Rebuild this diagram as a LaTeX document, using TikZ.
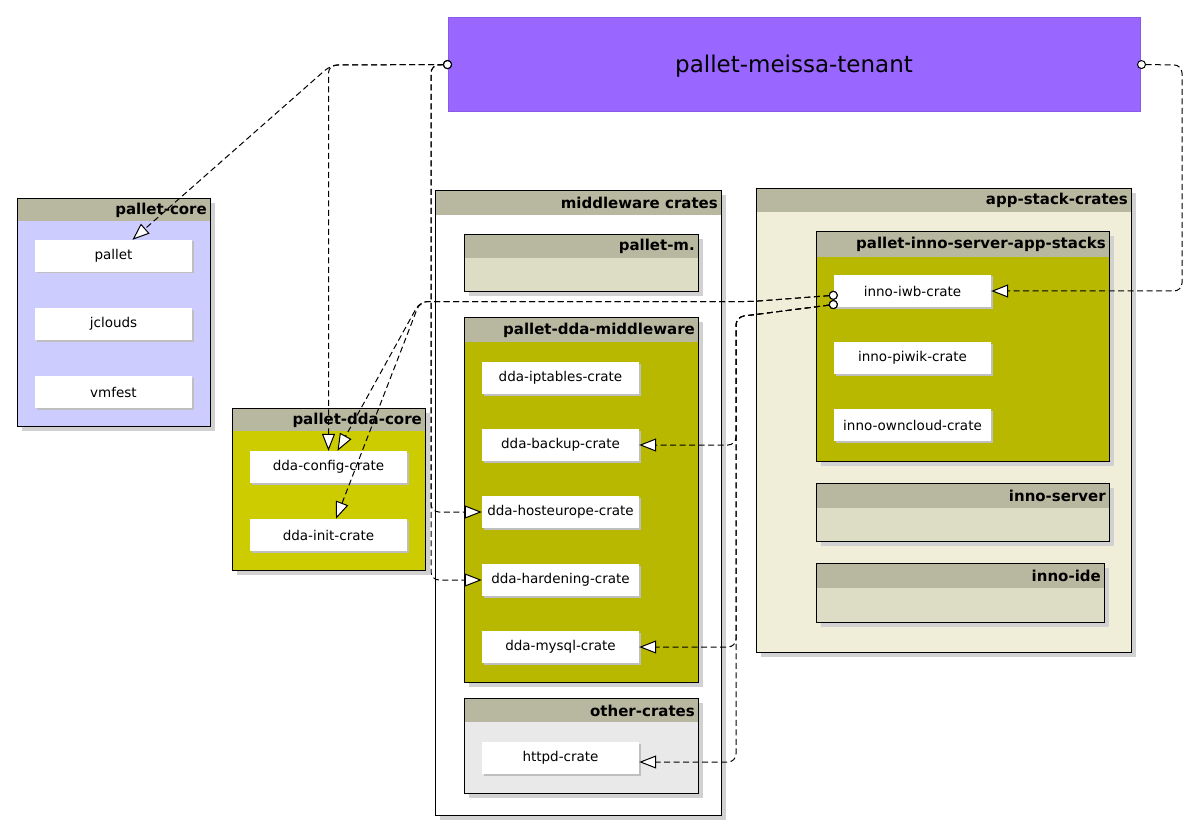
\documentclass[tikz,border=0pt]{standalone}
\usepackage{fontspec}
\setmainfont{DejaVu Sans}
\usetikzlibrary{arrows.meta,shadows}
\definecolor{hdr}{HTML}{B8B7A0}
\definecolor{corec}{HTML}{CCCCFF}
\definecolor{ddacorec}{HTML}{CCCC00}
\definecolor{olive}{HTML}{B8B800}
\definecolor{paleb}{HTML}{DDDCC5}
\definecolor{otherc}{HTML}{E9E9E9}
\definecolor{appc}{HTML}{F0EED8}
\definecolor{tenantc}{HTML}{9966FF}
\definecolor{tenantb}{HTML}{8A5AE6}
\newcommand{\pkgnode}[8]{%
  \node[pkg, fill=#7, minimum width=#4-#2, minimum height=#5-#3,
    path picture={\fill[hdr] (path picture bounding box.north west) rectangle ([yshift=-#6pt]path picture bounding box.north east);}] (#1) at (#2,#3) {};
  \node[titletext] (#1-t) at (#4-3,#3+#6/2+0.5) {#8};
}
\begin{document}
\begin{tikzpicture}[x=1pt,y=-1pt,
  pkg/.style={draw=black, line width=0.8pt, inner sep=0pt, outer sep=0pt, anchor=north west,
    drop shadow={shadow xshift=5pt, shadow yshift=-5pt, fill=black!18, opacity=1}},
  titletext/.style={anchor=east, inner sep=0pt, font=\fontsize{15}{17}\selectfont\bfseries},
  crate/.style={fill=white, minimum width=157pt, minimum height=32pt, inner sep=0pt,
    font=\fontsize{13.5}{15}\selectfont,
    drop shadow={shadow xshift=1.5pt, shadow yshift=-1.5pt, fill=black!25, opacity=1}},
  dep/.style={draw=black, line width=1pt, dash pattern=on 6pt off 3.5pt, rounded corners=8pt,
    {Circle[length=9pt,fill=white,line width=1pt]}-{Triangle[length=17pt,width=13pt,fill=white,line width=1pt]}}
]
\useasboundingbox (0,0) rectangle (1200,837);
\fill[white] (0,0) rectangle (1200,837);

% tenant
\node[fill=tenantc, draw=tenantb, line width=1pt, minimum width=692pt, minimum height=94pt,
  anchor=north west, inner sep=0pt] (tenant) at (448,17) {};
\node[font=\fontsize{23}{26}\selectfont, inner sep=0pt] (tenant-t) at (794,66) {pallet-meissa-tenant};

% containers
\pkgnode{core}{17}{198}{210}{426}{23}{corec}{pallet-core}
\pkgnode{ddacore}{232}{408}{425}{570}{23}{ddacorec}{pallet-dda-core}
\pkgnode{mw}{435}{190}{721}{815}{25}{white}{middleware crates}
\pkgnode{pm}{464}{234}{698}{291}{24}{paleb}{pallet-m.}
\pkgnode{ddamw}{464}{317}{698}{682}{25}{olive}{pallet-dda-middleware}
\pkgnode{other}{464}{698}{698}{793}{24}{otherc}{other-crates}
\pkgnode{app}{756}{188}{1131}{652}{24}{appc}{app-stack-crates}
\pkgnode{stacks}{816}{231}{1109}{461}{26}{olive}{pallet-inno-server-app-stacks}
\pkgnode{innoserver}{816}{483}{1109}{541}{25}{paleb}{inno-server}
\pkgnode{ide}{816}{563}{1104}{622}{25}{paleb}{inno-ide}

% crates
\node[crate] (pallet) at (113.5,256) {pallet};
\node[crate] (jclouds) at (113.5,324) {jclouds};
\node[crate] (vmfest) at (113.5,392) {vmfest};
\node[crate] (config) at (328.5,467) {dda-config-crate};
\node[crate] (init) at (328.5,535) {dda-init-crate};
\node[crate] (iptables) at (560.5,378) {dda-iptables-crate};
\node[crate] (backup) at (560.5,445) {dda-backup-crate};
\node[crate] (hosteurope) at (560.5,512) {dda-hosteurope-crate};
\node[crate] (hardening) at (560.5,580) {dda-hardening-crate};
\node[crate] (mysql) at (560.5,647) {dda-mysql-crate};
\node[crate] (httpd) at (560.5,758) {httpd-crate};
\node[crate] (iwb) at (912.5,291) {inno-iwb-crate};
\node[crate] (piwik) at (912.5,358) {inno-piwik-crate};
\node[crate] (owncloud) at (912.5,425) {inno-owncloud-crate};

% connectors from tenant (left port)
\draw[dep] ([xshift=4pt]tenant.west) -- (331,65) -- ([xshift=19pt]pallet.north);
\draw[dep] ([xshift=4pt]tenant.west) -- (328.5,65) -- (config.north);
\draw[dep] ([xshift=4pt]tenant.west) -- (431,65) -- (431,512) -- (hosteurope.west);
\draw[dep] ([xshift=4pt]tenant.west) -- (431,65) -- (431,580) -- (hardening.west);
% connector from tenant (right port)
\draw[dep] ([xshift=-4pt]tenant.east) -- (1182,65) -- (1182,291) -- (iwb.east);
% connectors from inno-iwb-crate
\draw[dep] ([xshift=4pt,yshift=-4pt]iwb.west) -- (752,301.5) -- (420,301.5) -- ([xshift=9pt]config.north);
\draw[dep] ([xshift=4pt,yshift=-4pt]iwb.west) -- (752,301.5) -- (420,301.5) -- ([xshift=7.5pt]init.north);
\draw[dep] ([xshift=4pt,yshift=-13pt]iwb.west) -- (736,317) -- (736,445) -- (backup.east);
\draw[dep] ([xshift=4pt,yshift=-13pt]iwb.west) -- (736,317) -- (736,647) -- (mysql.east);
\draw[dep] ([xshift=4pt,yshift=-13pt]iwb.west) -- (736,317) -- (736,762) -- ([yshift=-4pt]httpd.east);
\end{tikzpicture}
\end{document}
